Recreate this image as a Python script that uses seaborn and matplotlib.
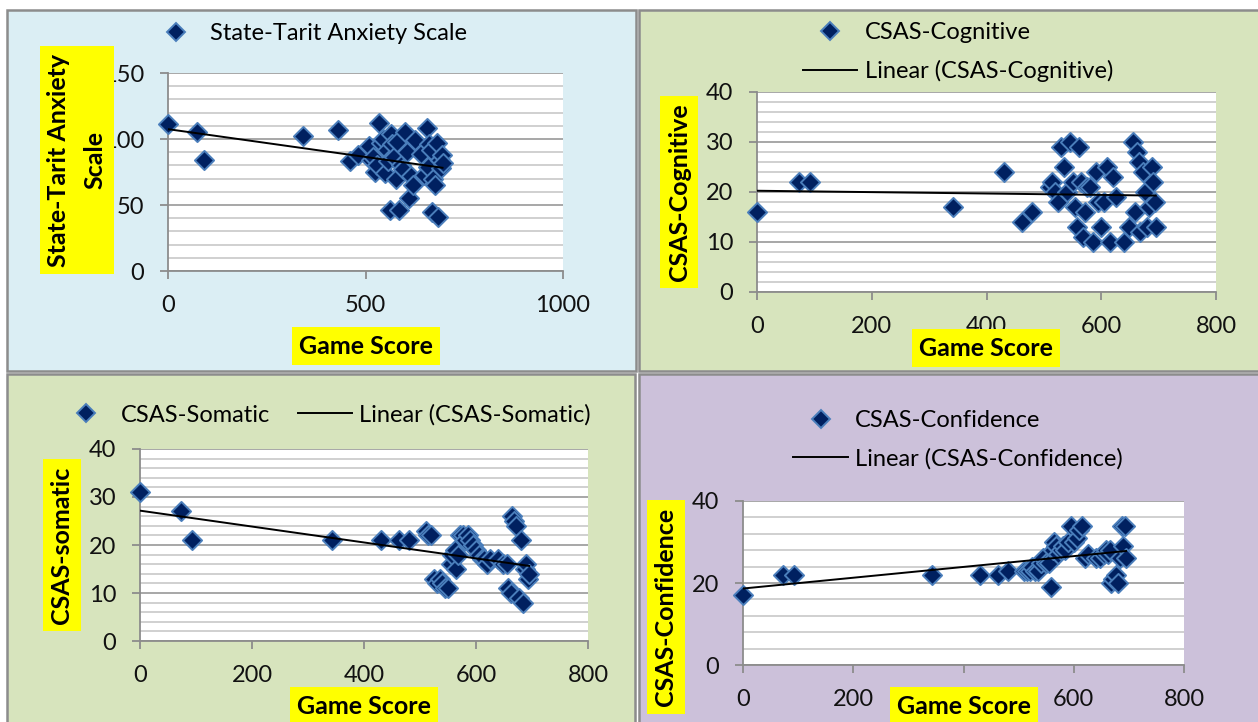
import pandas as pd
import matplotlib.pyplot as plt
import seaborn as sns
from matplotlib.patches import Rectangle
from matplotlib.lines import Line2D
from matplotlib.ticker import MultipleLocator

# values
game_score = [0, 73, 92, 342, 430, 462, 480, 510, 515, 520, 525, 530, 535, 540, 545, 550,
              555, 558, 562, 565, 568, 572, 576, 580, 585, 590, 595, 600, 605, 610, 615, 620,
              625, 640, 648, 655, 658, 662, 665, 668, 672, 676, 680, 684, 688, 690, 693, 695]
state_trait = [111, 105, 84, 102, 107, 83, 88, 95, 84, 86, 75, 80, 112, 97, 100, 74,
               92, 83, 46, 104, 96, 86, 70, 98, 46, 80, 77, 105, 90, 55, 72, 65,
               99, 89, 73, 108, 79, 96, 92, 45, 70, 65, 97, 41, 84, 78, 88, 82]
cognitive = [16, 22, 22, 17, 24, 14, 16, 21, 22, 20, 18, 29, 25, 20, 30, 22,
             17, 13, 29, 22, 11, 16, 21, 21, 10, 24, 18, 13, 18, 25, 10, 23,
             19, 10, 13, 30, 16, 28, 26, 12, 24, 20, 13, 17, 25, 22, 18, 13]
somatic = [31, 27, 21, 21, 21, 21, 21, 23, 22, 22, 13, 12, 13, 12, 11, 11,
           16, 18, 19, 15, 18, 22, 22, 21, 22, 21, 20, 19, 18, 17, 17, 16,
           17, 17, 16, 16, 11, 10, 26, 25, 24, 9, 21, 8, 15, 16, 13, 14]
confidence = [17, 22, 22, 22, 22, 22, 23, 23, 23, 23, 24, 23, 23, 25, 26, 25,
              25, 19, 28, 30, 29, 27, 28, 29, 28, 30, 34, 30, 31, 33, 34, 26,
              27, 26, 26, 27, 28, 27, 28, 20, 21, 22, 20, 26, 34, 29, 34, 26]

df = pd.DataFrame({'game_score': game_score, 'state_trait': state_trait,
                   'cognitive': cognitive, 'somatic': somatic, 'confidence': confidence})

plt.rcParams['font.family'] = ['Lato', 'DejaVu Sans']

W, H = 1258, 722
fig = plt.figure(figsize=(W / 100, H / 100), dpi=100)


def fx(px):
    return px / W


def fy(py):
    return 1 - py / H


NAVY = '#002060'
EDGE = '#4A7EBB'
GRAY = '#8C8C8C'

# panel backgrounds (pixel boxes), drawn behind the axes
backgrounds = [(7, 10, 636, 371, '#DBEEF4'),
               (639, 10, 1262, 371, '#D7E4BD'),
               (7, 374, 635, 726, '#D7E4BD'),
               (639, 374, 1262, 726, '#CCC1DA')]
for x0, y0, x1, y1, c in backgrounds:
    fig.patches.append(Rectangle((fx(x0), fy(y1)), (x1 - x0) / W, (y1 - y0) / H,
                                 transform=fig.transFigure, facecolor=c,
                                 edgecolor=GRAY, lw=1.8, zorder=-1))

panels = [
    dict(col='state_trait', box=(168, 73, 563, 271), xmax=1000, xstep=500, ymax=150, ystep=50, yminor=10,
         ylabel='State-Tarit Anxiety\nScale', yls=1.7, ylab_at=(77, 160), xlab_at=(366, 346),
         leg='State-Tarit Anxiety Scale', leg_at=(308, 34), ncol=1, trend_in_legend=False),
    dict(col='cognitive', box=(757, 92, 1216, 292), xmax=800, xstep=200, ymax=40, ystep=10, yminor=2,
         ylabel='CSAS-Cognitive', yls=1.0, ylab_at=(679, 192), xlab_at=(986, 348),
         leg='CSAS-Cognitive', leg_at=(958, 52), ncol=1, trend_in_legend=True),
    dict(col='somatic', box=(140, 449, 588, 641), xmax=800, xstep=200, ymax=40, ystep=10, yminor=2,
         ylabel='CSAS-somatic', yls=1.0, ylab_at=(62, 545), xlab_at=(364, 706),
         leg='CSAS-Somatic', leg_at=(325, 415), ncol=2, trend_in_legend=True),
    dict(col='confidence', box=(743, 501, 1184, 665), xmax=800, xstep=200, ymax=40, ystep=20, yminor=4,
         ylabel='CSAS-Confidence', yls=1.0, ylab_at=(666, 607), xlab_at=(964, 706),
         leg='CSAS-Confidence', leg_at=(958, 440), ncol=1, trend_in_legend=True),
]

for p in panels:
    x0, y0, x1, y1 = p['box']
    ax = fig.add_axes([fx(x0), fy(y1), (x1 - x0) / W, (y1 - y0) / H])
    ax.set_facecolor('white')

    sns.scatterplot(data=df, x='game_score', y=p['col'], marker='D', s=95, color=NAVY,
                    edgecolor=EDGE, linewidth=1.4, ax=ax, zorder=3, legend=False)
    ax.collections[-1].set_clip_on(False)
    sns.regplot(data=df, x='game_score', y=p['col'], scatter=False, ci=None, color='black',
                line_kws={'lw': 1.4, 'zorder': 4}, ax=ax)

    ax.set_xlim(0, p['xmax'])
    ax.set_ylim(0, p['ymax'])
    ax.xaxis.set_major_locator(MultipleLocator(p['xstep']))
    ax.yaxis.set_major_locator(MultipleLocator(p['ystep']))
    ax.yaxis.set_minor_locator(MultipleLocator(p['yminor']))
    ax.grid(axis='y', which='major', color='#A0A0A0', lw=1.3)
    ax.grid(axis='y', which='minor', color='#C4C4C4', lw=1.1)
    ax.set_axisbelow(True)
    for s in ['top', 'right']:
        ax.spines[s].set_visible(False)
    for s in ['left', 'bottom']:
        ax.spines[s].set_color(GRAY)
        ax.spines[s].set_linewidth(1.3)
    ax.tick_params(which='major', direction='out', length=6, width=1.3, color=GRAY,
                   labelsize=17, pad=11, labelcolor='#111111')
    ax.tick_params(which='minor', length=0)

    ax.set_ylabel(p['ylabel'], fontsize=18, fontweight='bold', ha='center', va='center',
                  linespacing=p['yls'],
                  bbox=dict(boxstyle='square,pad=0.3', facecolor='#FFFF00', edgecolor='none'))
    ax.yaxis.set_label_coords(fx(p['ylab_at'][0]), fy(p['ylab_at'][1]), transform=fig.transFigure)
    ax.set_xlabel('Game Score', fontsize=18, fontweight='bold', ha='center', va='center',
                  bbox=dict(boxstyle='square,pad=0.3', facecolor='#FFFF00', edgecolor='none'))
    ax.xaxis.set_label_coords(fx(p['xlab_at'][0]), fy(p['xlab_at'][1]), transform=fig.transFigure)

    handles = [Line2D([], [], marker='D', ls='none', mfc=NAVY, mec=EDGE, ms=9.5, mew=1.4)]
    labels = [p['leg']]
    if p['trend_in_legend']:
        handles.append(Line2D([], [], color='black', lw=1.4))
        labels.append('Linear (' + p['leg'] + ')')
    ax.legend(handles, labels, loc='center', bbox_to_anchor=(fx(p['leg_at'][0]), fy(p['leg_at'][1])),
              bbox_transform=fig.transFigure, frameon=False, ncol=p['ncol'], fontsize=17,
              handlelength=2.3, handletextpad=0.3, labelspacing=0.7, columnspacing=1.2)

fig.savefig('out.png', dpi=100)
